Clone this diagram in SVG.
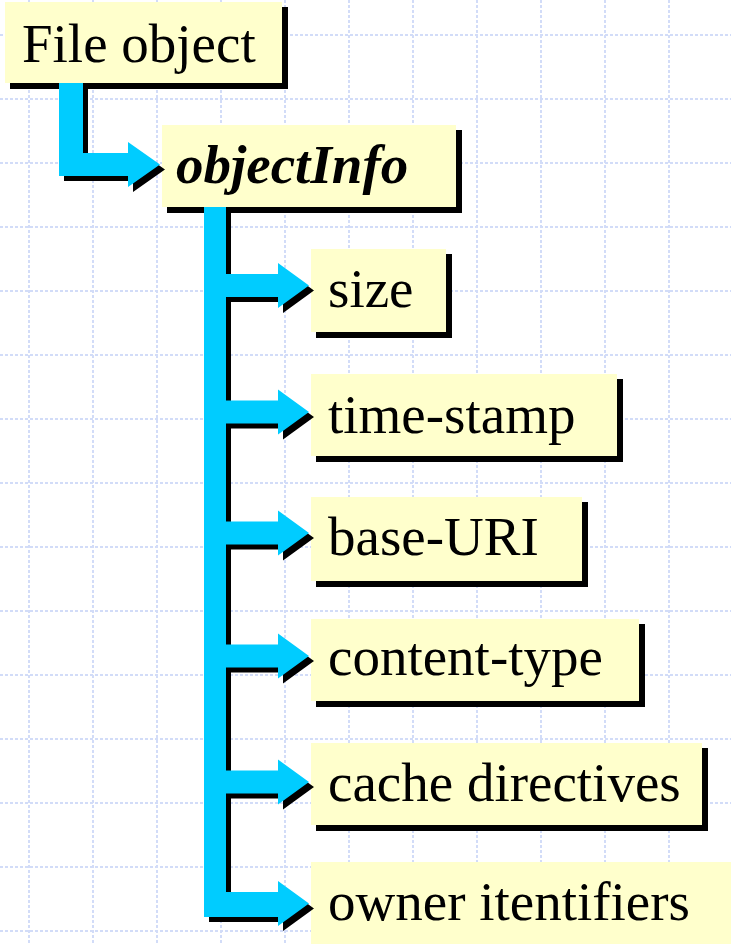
<svg xmlns="http://www.w3.org/2000/svg" width="731" height="944" viewBox="0 0 731 944">
<defs>
<style>
.grid line{stroke:#d2dcf8;stroke-width:2;stroke-dasharray:3 2;}
.box{fill:#ffffcc;}
.shd{fill:#000;}
.lbl{font-family:"Liberation Serif","Times New Roman",serif;font-size:55px;fill:#000;}
.bi{font-weight:bold;font-style:italic;}
.cy{fill:#00ccff;}
</style>
<clipPath id="c1"><rect x="0" y="0" width="161.5" height="944"/></clipPath>
<clipPath id="c2"><rect x="0" y="0" width="310.5" height="944"/></clipPath>
<path id="t1" d="M59,83H83V153H128V142L160,164.5L128,187V176H59Z"/>
<path id="t2" d="M204,207H226V274H278V263L309,285.5L278,308V297H226V400.5H278V389.5L309,412L278,434.5V423.5H226V521.5H278V510.5L309,533L278,555.5V544.5H226V644.5H278V633.5L309,656L278,678.5V667.5H226V770.5H278V759.5L309,782L278,804.5V793.5H226V892H278V881L309,903.5L278,926V917H204Z"/>
</defs>
<rect x="0" y="0" width="731" height="944" fill="#fff"/>
<g class="grid">
<line x1="29" y1="0" x2="29" y2="944"/><line x1="93" y1="0" x2="93" y2="944"/><line x1="157" y1="0" x2="157" y2="944"/><line x1="221" y1="0" x2="221" y2="944"/><line x1="285" y1="0" x2="285" y2="944"/><line x1="349" y1="0" x2="349" y2="944"/><line x1="413" y1="0" x2="413" y2="944"/><line x1="477" y1="0" x2="477" y2="944"/><line x1="541" y1="0" x2="541" y2="944"/><line x1="605" y1="0" x2="605" y2="944"/><line x1="669" y1="0" x2="669" y2="944"/>
<line x1="0" y1="35" x2="731" y2="35"/><line x1="0" y1="99" x2="731" y2="99"/><line x1="0" y1="163" x2="731" y2="163"/><line x1="0" y1="227" x2="731" y2="227"/><line x1="0" y1="291" x2="731" y2="291"/><line x1="0" y1="355" x2="731" y2="355"/><line x1="0" y1="419" x2="731" y2="419"/><line x1="0" y1="483" x2="731" y2="483"/><line x1="0" y1="547" x2="731" y2="547"/><line x1="0" y1="611" x2="731" y2="611"/><line x1="0" y1="675" x2="731" y2="675"/><line x1="0" y1="739" x2="731" y2="739"/><line x1="0" y1="803" x2="731" y2="803"/><line x1="0" y1="867" x2="731" y2="867"/><line x1="0" y1="931" x2="731" y2="931"/>
</g>
<g id="node-file-object">
<rect class="shd" x="10" y="7" width="278" height="82"/>
<rect class="box" x="5" y="2" width="277" height="81"/>
<text class="lbl" x="22" y="62">File object</text>
</g>
<g id="node-objectInfo">
<rect class="shd" x="167" y="130" width="295" height="83"/>
<rect class="box" x="162" y="125" width="294" height="82"/>
<text class="lbl bi" x="176" y="183">objectInfo</text>
</g>
<g id="node-size">
<rect class="shd" x="316" y="254" width="136" height="84"/>
<rect class="box" x="311" y="249" width="135" height="83"/>
<text class="lbl" x="328" y="307">size</text>
</g>
<g id="node-time-stamp">
<rect class="shd" x="316" y="379" width="307" height="83"/>
<rect class="box" x="311" y="374" width="306" height="82"/>
<text class="lbl" x="328" y="433">time-stamp</text>
</g>
<g id="node-base-uri">
<rect class="shd" x="316" y="502" width="272" height="85"/>
<rect class="box" x="311" y="497" width="271" height="84"/>
<text class="lbl" x="328" y="555">base-URI</text>
</g>
<g id="node-content-type">
<rect class="shd" x="316" y="624" width="329" height="83"/>
<rect class="box" x="311" y="619" width="328" height="82"/>
<text class="lbl" x="328" y="675">content-type</text>
</g>
<g id="node-cache-directives">
<rect class="shd" x="316" y="748" width="392" height="83"/>
<rect class="box" x="311" y="743" width="391" height="82"/>
<text class="lbl" x="328" y="801">cache directives</text>
</g>
<g id="node-owner-itentifiers">
<rect class="box" x="311" y="862" width="430" height="90"/>
<text class="lbl" x="328" y="920">owner itentifiers</text>
</g>
<g id="connectors">
<use href="#t1" class="shd" transform="translate(5,5)" clip-path="url(#c1)"/>
<use href="#t1" class="cy"/>
<use href="#t2" class="shd" transform="translate(5,5)" clip-path="url(#c2)"/>
<use href="#t2" class="cy"/>
</g>
</svg>
